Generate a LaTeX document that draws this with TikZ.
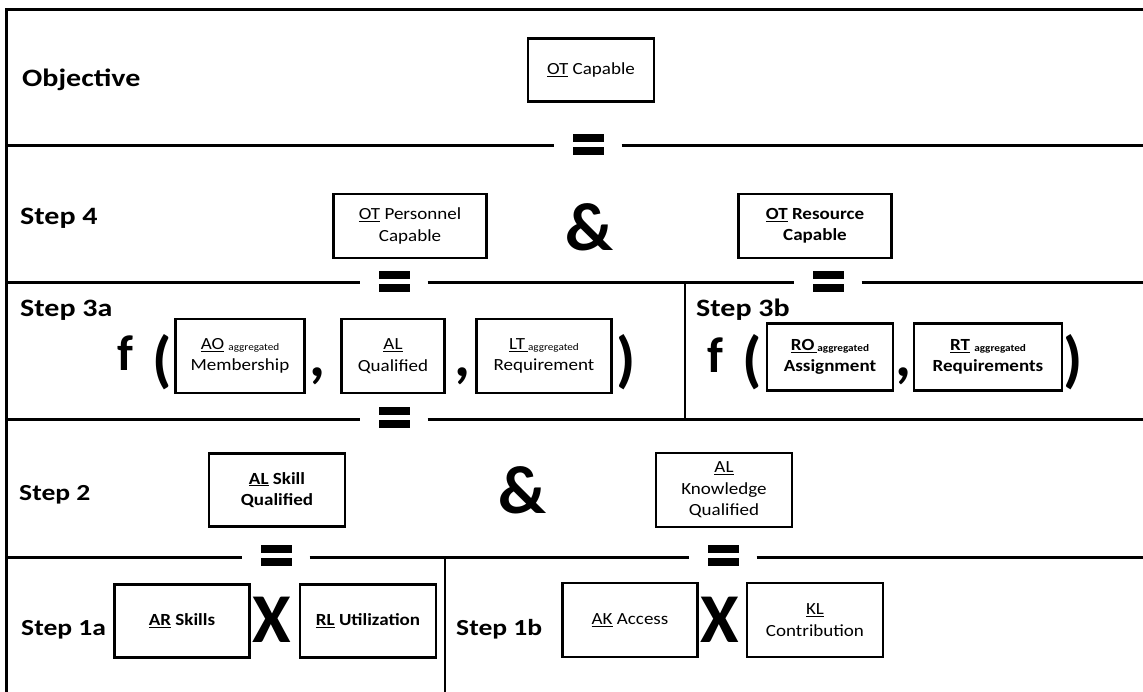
\documentclass[tikz,border=0pt]{standalone}
\usepackage{fontspec}
\setmainfont{Carlito}[FakeStretch=1.2]
\newfontfamily\boxfont{Carlito}[FakeStretch=1.12]
\newfontfamily\symfont{Carlito}
\newcommand{\aggr}[1]{{\fontsize{10}{12}\selectfont\raisebox{-1pt}{#1}}}

\tikzset{
  box/.style={draw, line width=2.6pt, align=center, inner sep=2pt, font=\boxfont\fontsize{17}{21.5}\selectfont},
  boldbox/.style={box, font=\boxfont\bfseries\fontsize{17}{21.5}\selectfont},
  steplabel/.style={anchor=base west, inner sep=0pt, font=\bfseries\fontsize{25}{30}\selectfont},
  smalllabel/.style={steplabel, font=\bfseries\fontsize{23}{28}\selectfont},
  bigsym/.style={inner sep=0pt, font=\symfont\bfseries\fontsize{62}{62}\selectfont},
  eqsign/.style={inner sep=0pt, minimum width=67pt, minimum height=22pt},
  border/.style={line width=3pt}
}

\begin{document}
\begin{tikzpicture}[x=1pt,y=-1pt]
				\useasboundingbox (0,0) rectangle (1143,692);
				% labels of the rows
				\node[steplabel] (obj) at (22,87) {Objective};
				\node[steplabel] (s4) at (20,225) {Step 4};
				\node[steplabel] (s3a) at (20,317) {Step 3a};
				\node[steplabel] (s3b) at (696,317) {Step 3b};
				\node[smalllabel] (s2) at (19,500) {Step 2};
				\node[smalllabel] (s1a) at (21,635) {Step 1a};
				\node[smalllabel] (s1b) at (456,635) {Step 1b};
				% boxes
				\node[box, minimum width=126pt, minimum height=63pt] (capable) at (591,70) {\underline{OT} Capable};
				\node[box, minimum width=153pt, minimum height=64pt] (personnel) at (410,226) {\underline{OT} Personnel\\Capable};
				\node[boldbox, minimum width=153pt, minimum height=64pt] (resource) at (815,226) {\underline{OT} Resource\\Capable};
				\node[box, minimum width=129pt, minimum height=74pt] (ao) at (240,356) {\underline{AO} \aggr{aggregated}\\Membership};
				\node[box, minimum width=103pt, minimum height=74pt] (alq) at (393,356) {\underline{AL}\\Qualified};
				\node[box, minimum width=135pt, minimum height=74pt] (lt) at (544,356) {\underline{LT\hspace{3pt}}\aggr{aggregated}\\Requirement};
				\node[boldbox, minimum width=126pt, minimum height=67pt] (ro) at (830,357) {\underline{RO\hspace{3pt}}\aggr{aggregated}\\Assignment};
				\node[boldbox, minimum width=148pt, minimum height=67pt] (rt) at (988,357) {\underline{RT} \aggr{aggregated}\\Requirements};
				\node[boldbox, minimum width=136pt, minimum height=73pt] (alskill) at (277,490) {\underline{AL} Skill\\Qualified};
				\node[box, minimum width=136pt, minimum height=74pt] (alknow) at (724,490) {\underline{AL}\\Knowledge\\Qualified};
				\node[boldbox, minimum width=135pt, minimum height=73pt] (ar) at (182,621) {\underline{AR} Skills};
				\node[boldbox, minimum width=136pt, minimum height=73pt] (rl) at (368,621) {\underline{RL} Utilization};
				\node[box, minimum width=135pt, minimum height=74pt] (ak) at (630,620) {\underline{AK} Access};
				\node[box, minimum width=136pt, minimum height=74pt] (kl) at (815,620) {\underline{KL}\\Contribution};
				% operators
				\node[bigsym, font=\symfont\bfseries\fontsize{68}{68}\selectfont] (amp1) at (589,227) {\&};
				\node[bigsym, font=\symfont\bfseries\fontsize{68}{68}\selectfont] (amp2) at (522,490) {\&};
				\node[bigsym, font=\symfont\bfseries\fontsize{50}{50}\selectfont] (f1) at (125,353) {f};
				\node[bigsym] (open1) at (162,362) {(};
				\node[bigsym] (comma1) at (317,376) {,};
				\node[bigsym] (comma2) at (462,376) {,};
				\node[bigsym] (close1) at (626,362) {)};
				\node[bigsym, font=\symfont\bfseries\fontsize{50}{50}\selectfont] (f2) at (715,355) {f};
				\node[bigsym] (open2) at (752,362) {(};
				\node[bigsym] (comma3) at (903,376) {,};
				\node[bigsym] (close2) at (1073,362) {)};
				\node[bigsym, font=\symfont\bfseries\fontsize{70}{70}\selectfont] (x1) at (272,620) {X};
				\node[bigsym, font=\symfont\bfseries\fontsize{70}{70}\selectfont] (x2) at (720,620) {X};
				% equal signs
				\node[eqsign] (e1) at (588,146) {};
				\node[eqsign] (e2) at (394,283) {};
				\node[eqsign] (e3) at (828,283) {};
				\node[eqsign] (e4) at (394,419) {};
				\node[eqsign] (e5) at (276,557) {};
				\node[eqsign] (e6) at (723,557) {};
				\foreach \e in {e1,e2,e3,e4,e5,e6} {
					\fill ([shift={(-15.5pt,4pt)}]\e.center) rectangle ([shift={(15.5pt,12pt)}]\e.center);
					\fill ([shift={(-15.5pt,-1pt)}]\e.center) rectangle ([shift={(15.5pt,-9pt)}]\e.center);
				}
				% frame and row lines
				\draw[border] (1143,10) -- (6,10) -- (6,692);
				\draw[border] (6,146) -- (e1.west);
				\draw[border] (e1.east) -- (1143,146);
				\draw[border] (6,283) -- (e2.west);
				\draw[border] (e2.east) -- (e3.west);
				\draw[border] (e3.east) -- (1143,283);
				\draw[border] (6,419) -- (e4.west);
				\draw[border] (e4.east) -- (1143,419);
				\draw[border] (6,557) -- (e5.west);
				\draw[border] (e5.east) -- (e6.west);
				\draw[border] (e6.east) -- (1143,557);
				\draw[line width=2.6pt] (685,283) -- (685,419);
				\draw[line width=2.6pt] (445,557) -- (445,692);
				\end{tikzpicture}
\end{document}
